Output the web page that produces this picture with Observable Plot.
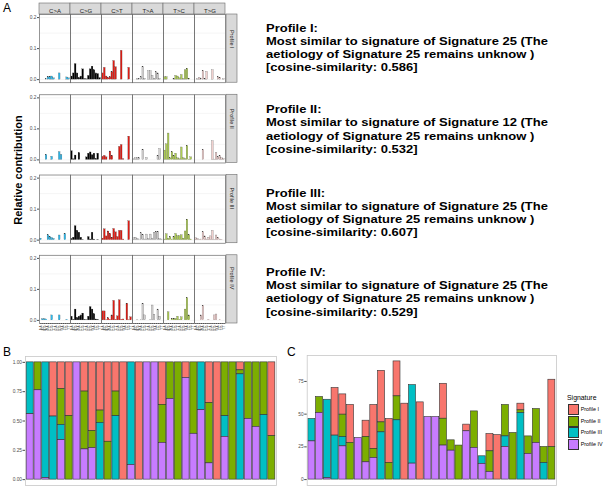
<!DOCTYPE html>
<html>
<head>
<meta charset="utf-8">
<script src="https://cdn.jsdelivr.net/npm/d3@7"></script>
<script src="https://cdn.jsdelivr.net/npm/@observablehq/plot@0.6"></script>
<style>
  html, body { margin: 0; padding: 0; background: #fff; overflow: hidden; }
  #root { position: relative; width: 606px; height: 486px; overflow: hidden; font-family: "Liberation Sans", Arial, Helvetica, sans-serif; }
  .panel-label { font-size: 12px; line-height: 12px; color: #000; }
  .prof { position: absolute; font-weight: bold; font-size: 11.8px; line-height: 13.3px; color: #000; white-space: nowrap; transform: scaleX(1.1); transform-origin: 0 0; }
  .ylab { position: absolute; font-weight: bold; font-size: 11px; white-space: nowrap; transform: translate(-50%, -50%) rotate(-90deg); }
  .leg-title { position: absolute; font-size: 6.9px; color: #000; }
  .leg-key { position: absolute; width: 9px; height: 9px; border: 0.6px solid #333; }
  .leg-lab { position: absolute; font-size: 5.4px; color: #000; line-height: 10px; }
</style>
</head>
<body>
<div id="root"></div>
<script>
// ---------- Panel A data ----------
const types = ["C>A", "C>G", "C>T", "T>A", "T>C", "T>G"];
const typeColors = ["#2EBAED", "#000000", "#DE1C14", "#D4D2D2", "#ADCC54", "#F0D0CE"];
const contexts = ["A.A","A.C","A.G","A.T","C.A","C.C","C.G","C.T","G.A","G.C","G.G","G.T","T.A","T.C","T.G","T.T"];
const profiles = ["Profile I", "Profile II", "Profile III", "Profile IV"];

const profileI = [
  0,0,0,0.001,0.008,0.009,0.01,0.004,0,0,0.02,0,0,0,0.007,0.004,
  0.01,0.02,0.05,0.02,0.005,0.01,0.033,0.002,0.001,0.012,0.033,0.042,0.03,0.02,0.018,0.005,
  0.02,0.038,0.01,0.005,0.008,0.024,0.06,0.04,0,0,0.093,0,0,0,0.038,0,
  0,0,0.001,0.002,0.008,0.04,0.003,0,0.027,0.027,0.012,0.003,0.024,0.02,0.002,0,
  0.008,0.008,0,0,0,0.002,0.012,0.01,0.004,0.015,0.002,0.03,0.035,0.003,0,0,
  0,0.001,0.005,0.002,0.028,0.001,0.025,0,0,0.03,0,0,0.008,0.005,0,0.001
];
const profileII = [
  0,0,0,0.016,0,0,0.01,0,0,0,0.025,0.016,0,0,0,0,
  0.028,0.002,0.014,0,0.022,0,0,0,0.008,0.02,0.024,0.015,0.02,0.003,0.02,0,
  0.01,0.013,0.008,0,0.027,0.013,0,0,0,0.042,0.048,0.002,0,0,0.075,0,
  0.002,0.005,0.005,0.005,0,0.033,0,0.006,0,0,0,0,0,0.013,0.035,0,
  0.03,0.05,0.085,0.005,0.025,0.012,0.02,0.005,0.002,0.04,0.005,0.002,0.045,0.001,0.008,0,
  0,0,0,0,0.032,0,0,0,0,0.06,0.001,0.022,0.008,0.012,0.005,0.002
];
const profileIII = [
  0.005,0,0,0,0.016,0.01,0.007,0.004,0,0,0.015,0,0,0.02,0,0,
  0.004,0.008,0.045,0.03,0.024,0.008,0.001,0,0,0.01,0.002,0.024,0.002,0,0.001,0,
  0.005,0.035,0.012,0.028,0.02,0.008,0.036,0.025,0.01,0.03,0.03,0.002,0,0,0.061,0,
  0.006,0.008,0.003,0.002,0.022,0.016,0.002,0.018,0.004,0.018,0.005,0.024,0.027,0.027,0.003,0.002,
  0.002,0.019,0.004,0.01,0.002,0.01,0.02,0.013,0.013,0.016,0.005,0.028,0.066,0.016,0.002,0,
  0.006,0.004,0.001,0.002,0.025,0.012,0.002,0.008,0.012,0.03,0.001,0.015,0.008,0.002,0.001,0
];
const profileIV = [
  0,0.004,0.004,0.003,0,0,0.016,0,0,0,0.016,0,0,0,0.002,0,
  0.012,0.002,0.035,0.008,0.012,0.016,0.022,0.002,0.001,0.012,0.043,0.035,0.02,0.003,0.002,0,
  0.029,0.029,0.001,0.007,0.002,0.016,0.063,0.002,0.013,0.065,0.002,0.003,0,0.054,0.001,0.01,
  0,0,0.001,0,0.002,0.054,0.016,0,0,0.001,0.048,0.018,0,0.035,0.012,0,
  0,0,0.026,0,0.004,0.004,0.005,0.012,0.002,0.01,0,0.035,0.072,0.016,0,0,
  0,0,0,0.016,0.047,0,0,0.002,0,0,0.016,0.019,0,0.002,0,0
];
const profileValues = [profileI, profileII, profileIII, profileIV];

// Annotation texts
const profileTitles = ["Profile I:", "Profile II:", "Profile III:", "Profile IV:"];
const matchedSignature = [25, 12, 25, 25];
const cosineSimilarity = ["0.586", "0.532", "0.607", "0.529"];

// ---------- Panels B & C data ----------
const samples = ["S1","S2","S3","S4","S5","S6","S7","S8","S9","S10","S11","S12","S13","S14","S15","S16",
                 "S17","S18","S19","S20","S21","S22","S23","S24","S25","S26","S27","S28","S29","S30","S31","S32"];
const sigColors = ["#F8766D", "#7CAE00", "#00BFC4", "#C77CFF"];
const stackOrder = ["Profile IV", "Profile III", "Profile II", "Profile I"];

// relative contribution (panel B)
const relI   = [0,0,0,0.462,0.227,0.459,0,0.249,0.586,0.411,0.677,0.249,1,0,1,0,0,0.363,0,0,0.133,0,0,0.348,1,0,0,0.068,0,0,0,0.629];
const relII  = [0,0.238,0,0,0.306,0.541,0,0.493,0.145,0.105,0.323,0.21,0,0,0,0,0,0.323,0.312,1,0,0.609,0,0.513,0,0.459,1,0.034,0.482,0.55,0.45,0.371];
const relIII = [0.442,0,0.986,0.538,0.13,0,0,0,0,0.484,0,0.541,0,0.875,0,0,0,0,0,0,0,0,0.408,0,0,0.176,0,0.898,0,0,0.55,0];
const relIV  = [0.558,0.762,0.014,0,0.337,0,1,0.258,0.269,0,0,0,0,0.125,0,1,1,0.314,0.688,0,0.867,0.391,0.592,0.139,0,0.365,0,0,0.518,0.45,0,0];

// absolute contribution (panel C)
const absI   = [0,0,0,36.4,15.5,29,0,12.5,33.6,39.4,33.6,26.7,58,0,59,0,0,26.7,0,0,5.1,0,0,13.2,34,0,0,5.1,0,0,0,51.4];
const absII  = [0,12.2,0,0,17.1,28,0,19.3,6.9,7.6,12.7,18.3,0,0,0,0,0,20.5,7.9,26,0,27.9,0,15.8,0,24,35.6,2,13.4,25.9,12.2,24.9];
const absIII = [17.1,0,60,33.6,7.1,0,0,0,0,36.1,0,45.3,0,60,0,0,0,0,0,0,0,0,5.8,0,0,8.1,0,50.9,0,0,12.7,0];
const absIV  = [29.2,50.9,1,0,25.4,0,31.8,13.2,16.5,0,0,0,0,12.2,0,47.8,47.8,26,22.1,0,36.9,24.2,12,5.8,0,24.9,0,0,19.6,28,0,0];

// ---------- build tables ----------
const dataA = [];
profiles.forEach((p, pi) => types.forEach((t, ti) => contexts.forEach((c, ci) => {
  dataA.push({profile: p, type: t, context: c, value: profileValues[pi][ti * 16 + ci]});
})));

function stackTable(arrs) {
  const out = [];
  samples.forEach((s, i) => profiles.forEach((p, k) => {
    const v = arrs[k][i];
    if (v > 0) out.push({sample: s, profile: p, value: v});
  }));
  return out;
}
const dataB = stackTable([relI, relII, relIII, relIV]);
const dataC = stackTable([absI, absII, absIII, absIV]);

const FONT = "Liberation Sans, Arial, Helvetica, sans-serif";
const root = document.getElementById("root");

function place(el, left, top) {
  el.style.position = "absolute";
  el.style.left = left + "px";
  el.style.top = top + "px";
  root.appendChild(el);
}

// ---------- Panel A ----------
const chartA = Plot.plot({
  width: 240, height: 346,
  marginLeft: 39, marginRight: 15, marginTop: 14, marginBottom: 23,
  style: {fontFamily: FONT, background: "transparent", overflow: "visible"},
  fx: {domain: types, padding: 0, round: false, axis: null},
  fy: {domain: profiles, paddingInner: 0.15, paddingOuter: 0, round: false, axis: null},
  x: {domain: contexts, paddingInner: 0.1, paddingOuter: 0.3, round: false, axis: null},
  y: {domain: [-0.01, 0.21], axis: null},
  color: {domain: types, range: typeColors},
  marks: [
    Plot.gridY({ticks: [0, 0.05, 0.1, 0.15, 0.2], stroke: "#ebebeb", strokeOpacity: 1, strokeWidth: 0.5}),
    Plot.barY(dataA, {fx: "type", fy: "profile", x: "context", y: "value", fill: "type", stroke: "#333", strokeWidth: 0.2}),
    Plot.frame({stroke: "#6a6a6a", strokeWidth: 0.7}),
    Plot.axisY({ticks: [0, 0.1, 0.2], tickFormat: ".1f", fontSize: 4.8, tickSize: 2, tickPadding: 1, color: "#4d4d4d", label: null}),
    Plot.axisX({tickRotate: -90, fontSize: 3, tickSize: 1, tickPadding: 1, color: "#4d4d4d", label: null}),
    Plot.text(types, {fx: d => d, fy: () => profiles[0], frameAnchor: "top", dy: -5.5, text: d => d, fontSize: 6, fill: "#1a1a1a"}),
    Plot.text(profiles, {fy: d => d, fx: () => types[types.length - 1], frameAnchor: "right", dx: 6.5, rotate: 90, text: d => d, fontSize: 5.5, fill: "#1a1a1a"})
  ]
});
// grey strip boxes behind the facet labels
(function addStrips(chart) {
  const fx = chart.scale("fx"), fy = chart.scale("fy");
  const g = d3.select(chart).insert("g", "g");
  const top = fy.apply(profiles[0]);
  types.forEach(t => g.append("rect")
    .attr("x", fx.apply(t)).attr("y", top - 11).attr("width", fx.bandwidth).attr("height", 11)
    .attr("fill", "#d9d9d9").attr("stroke", "#6a6a6a").attr("stroke-width", 0.6));
  const right = fx.apply(types[types.length - 1]) + fx.bandwidth;
  profiles.forEach(p => g.append("rect")
    .attr("x", right + 1).attr("y", fy.apply(p)).attr("width", 11).attr("height", fy.bandwidth)
    .attr("fill", "#d9d9d9").attr("stroke", "#6a6a6a").attr("stroke-width", 0.6));
})(chartA);
place(chartA, 0, 0);

const ylab = document.createElement("div");
ylab.className = "ylab";
ylab.textContent = "Relative contribution";
place(ylab, 18, 170);

// annotation blocks
const profTops = [21.5, 103.1, 186.5, 265.8];
profiles.forEach((p, i) => {
  const d = document.createElement("div");
  d.className = "prof";
  d.innerHTML = `${profileTitles[i]}<br>Most similar to signature of Signature ${matchedSignature[i]} (The<br>aetiology of Signature 25 remains unknow )<br>[cosine-similarity: ${cosineSimilarity[i]}]`;
  place(d, 266, profTops[i]);
});

// ---------- Panel B ----------
const chartB = Plot.plot({
  width: 280, height: 156,
  marginLeft: 25, marginRight: 4, marginTop: 16, marginBottom: 11,
  style: {fontFamily: FONT, background: "transparent", overflow: "visible"},
  x: {domain: samples, paddingInner: 0.1, paddingOuter: 0.15, round: false, axis: null},
  y: {domain: [-0.05, 1.05], axis: null},
  color: {domain: profiles, range: sigColors},
  marks: [
    Plot.barY(dataB, {x: "sample", y: "value", fill: "profile", order: stackOrder, stroke: "#333", strokeWidth: 0.6}),
    Plot.frame({stroke: "#c8c8c8", strokeWidth: 0.8}),
    Plot.axisY({ticks: [0, 0.25, 0.5, 0.75, 1], tickFormat: ".2f", fontSize: 4.8, tickSize: 2.5, tickPadding: 1, color: "#4d4d4d", label: null})
  ]
});
place(chartB, 0, 340);

// ---------- Panel C ----------
const maxTotal = d3.max(d3.rollup(dataC, v => d3.sum(v, d => d.value), d => d.sample).values());
const chartC = Plot.plot({
  width: 280, height: 156,
  marginLeft: 26.7, marginRight: 4, marginTop: 15, marginBottom: 11,
  style: {fontFamily: FONT, background: "transparent", overflow: "visible"},
  x: {domain: samples, paddingInner: 0.1, paddingOuter: 0.15, round: false, axis: null},
  y: {domain: [-0.05 * maxTotal, 1.05 * maxTotal], axis: null},
  color: {domain: profiles, range: sigColors},
  marks: [
    Plot.barY(dataC, {x: "sample", y: "value", fill: "profile", order: stackOrder, stroke: "#333", strokeWidth: 0.6}),
    Plot.frame({stroke: "#c8c8c8", strokeWidth: 0.8}),
    Plot.axisY({ticks: [0, 25, 50, 75], fontSize: 4.8, tickSize: 2.5, tickPadding: 1, color: "#4d4d4d", label: null})
  ]
});
place(chartC, 280, 340);

// ---------- Legend for C ----------
const lt = document.createElement("div");
lt.className = "leg-title";
lt.textContent = "Signature";
place(lt, 567, 393.5);
profiles.forEach((p, i) => {
  const k = document.createElement("div");
  k.className = "leg-key";
  k.style.background = sigColors[i];
  place(k, 567.7, 404.3 + i * 11.4);
  const l = document.createElement("div");
  l.className = "leg-lab";
  l.textContent = p;
  place(l, 580.7, 404.3 + i * 11.4);
});

// ---------- Panel letters ----------
[["A", 3, 1.5], ["B", 3, 346], ["C", 287, 346]].forEach(([t, x, y]) => {
  const d = document.createElement("div");
  d.className = "panel-label";
  d.textContent = t;
  place(d, x, y);
});
</script>
</body>
</html>
